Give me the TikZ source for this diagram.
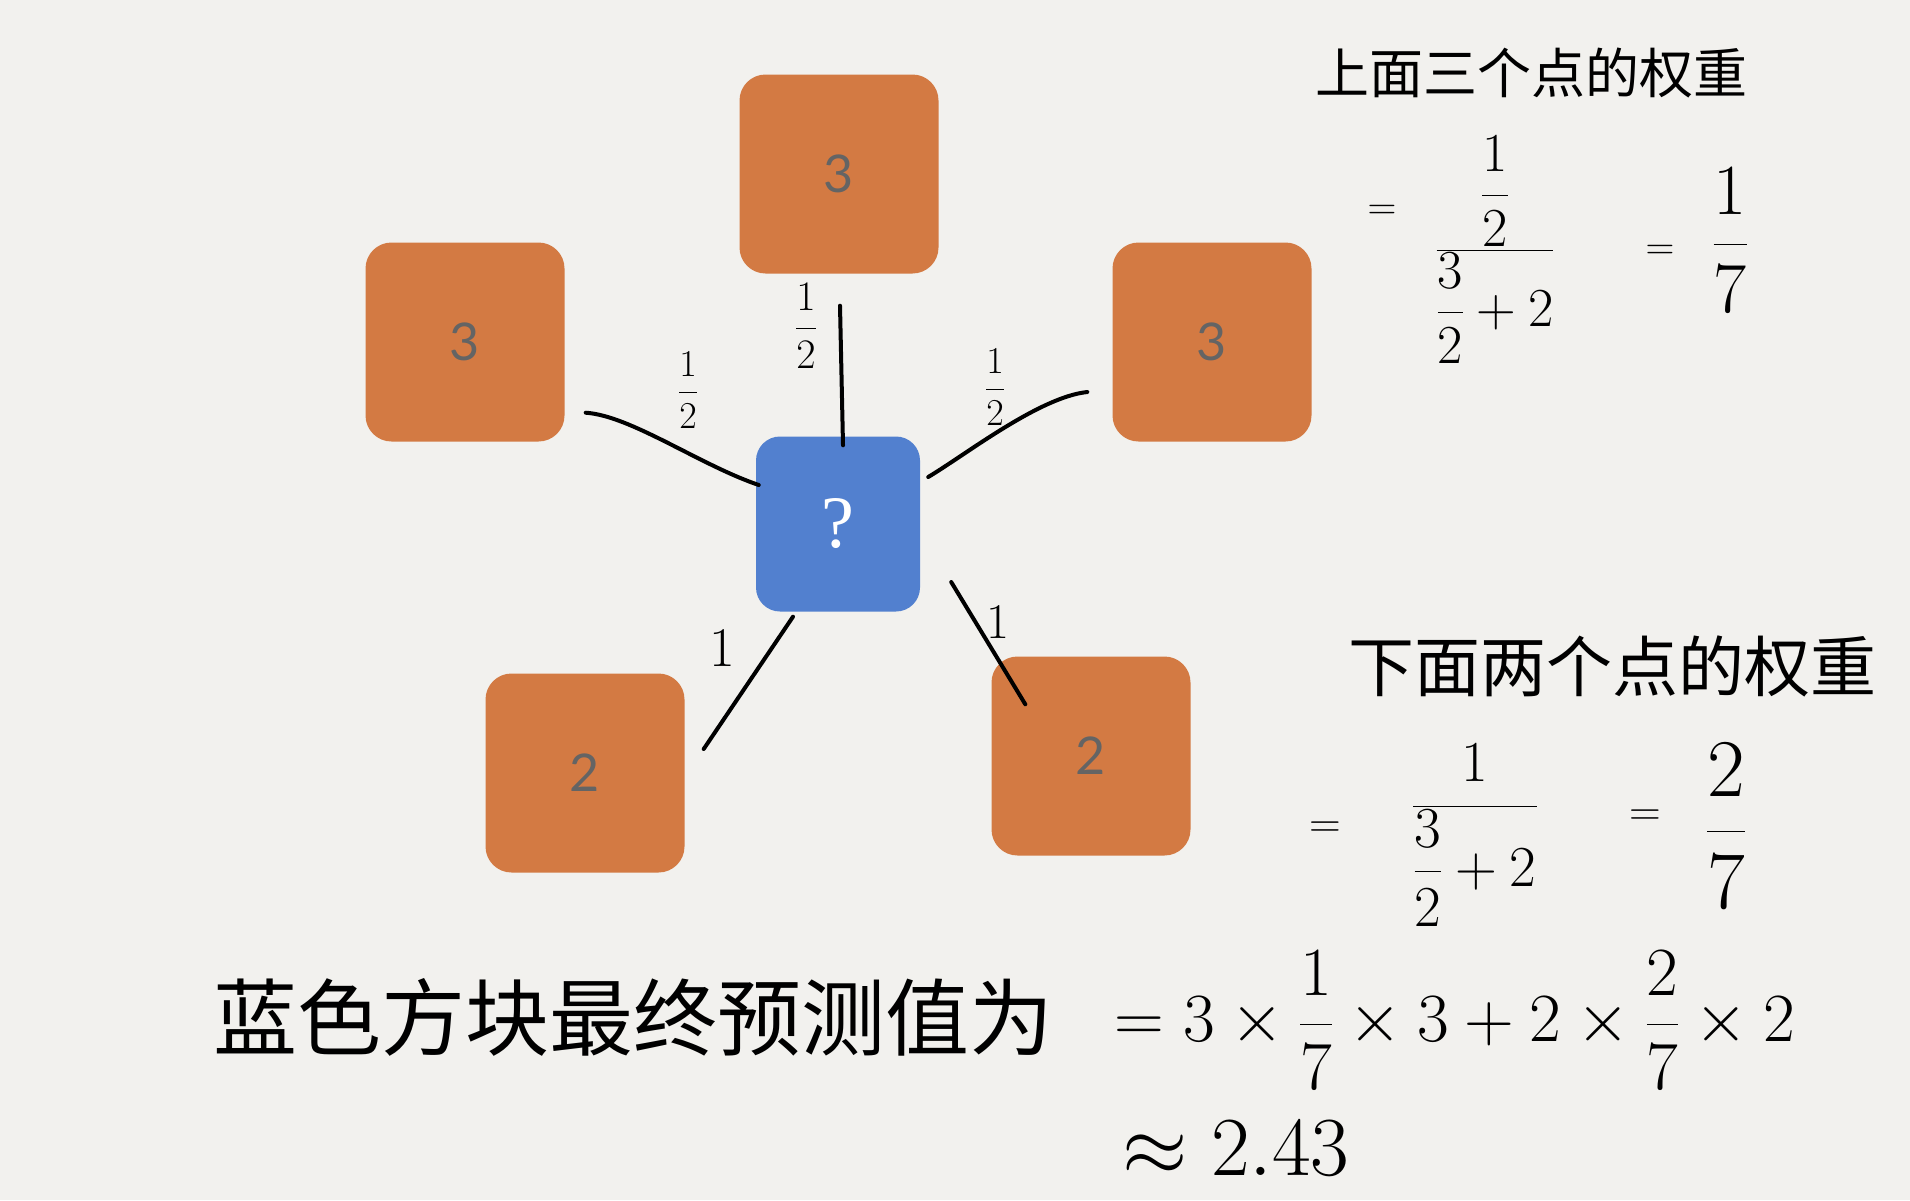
\documentclass[tikz,border=0pt]{standalone}
\usepackage{fix-cm}
\usepackage{amsmath}
\usepackage{fontspec}
\setmainfont{Lato}
\newfontfamily\cjk{Noto Sans CJK SC}
\newfontfamily\qfont{Liberation Serif}
\usetikzlibrary{calc}
\definecolor{bg}{RGB}{242,241,238}
\definecolor{orangebox}{RGB}{211,122,67}
\definecolor{bluebox}{RGB}{82,128,207}
\definecolor{digitgrey}{RGB}{100,100,100}
\tikzset{
  obox/.style={fill=orangebox, rounded corners=26pt, minimum width=199pt, minimum height=199pt,
    inner sep=0pt, text=digitgrey, font=\fontsize{52}{52}\selectfont},
  qbox/.style={fill=bluebox, rounded corners=24pt, minimum width=164pt, minimum height=175pt,
    inner sep=0pt, text=white, font=\qfont\fontsize{74}{74}\selectfont},
  link/.style={line width=4pt, line cap=round, black},
  wlabel/.style={inner sep=0pt, font=\fontsize{38}{38}\selectfont},
  note/.style={inner sep=0pt, font=\cjk\fontsize{54}{54}\selectfont},
  eq/.style={inner sep=0pt, font=\fontsize{55}{55}\selectfont},
}
\begin{document}
\begin{tikzpicture}[x=1pt,y=-1pt]
\fill[bg] (0,0) rectangle (1910,1200);
\useasboundingbox (0,0) rectangle (1910,1200);

% boxes
\node[obox] (T) at (839,174) {3};
\node[obox] (L) at (465,342) {3};
\node[obox] (R) at (1212,342) {3};
\node[qbox] (Q) at (838,524) {?};
\node[obox] (BL) at (585,773) {2};
\node[obox] (BR) at (1091,756) {2};

% connectors
\draw[link] ($(L.south east)+(21,-29)$) .. controls ($(L.south east)+(66,-26)$) and ($(Q.west)+(-56,-59)$) .. ($(Q.west)+(3,-39)$);
\draw[link] ($(T.south)+(1,32)$) -- ($(Q.north)+(5,9)$);
\draw[link] ($(Q.east)+(8,-47)$) .. controls ($(Q.east)+(45,-69)$) and ($(R.west)+(-73,55)$) .. ($(R.west)+(-25,50)$);
\draw[link] ($(Q.south)+(-45,5)$) -- ($(BL.east)+(19,-24)$);
\draw[link] ($(Q.east)+(31,58)$) -- ($(BR.north west)+(34,48)$);

% weights
\node[wlabel] (wl) at (688,390) {$\dfrac{1}{2}$};
\node[wlabel, font=\fontsize{42}{42}\selectfont] (wt) at (806,326) {$\dfrac{1}{2}$};
\node[wlabel] (wr) at (995,387) {$\dfrac{1}{2}$};
\node[wlabel, font=\fontsize{56}{56}\selectfont] (wbl) at (722,648) {$1$};
\node[wlabel, font=\fontsize{50}{50}\selectfont] (wbr) at (998,622) {$1$};

% upper weights note
\node[note] (n1) at (1531,73) {上面三个点的权重};
\node[eq, font=\fontsize{40}{40}\selectfont] (e1) at (1382,212) {$=$};
\node[eq] (f1) at (1495,250) {$\dfrac{\dfrac{1}{2}}{\dfrac{3}{2}+2}$};
\node[eq, font=\fontsize{40}{40}\selectfont] (e2) at (1660,252) {$=$};
\node[eq, font=\fontsize{72}{72}\selectfont] (f2) at (1730,240) {$\dfrac{1}{7}$};

% lower weights note
\node[note, font=\cjk\fontsize{66}{66}\selectfont] (n2) at (1612,666) {下面两个点的权重};
\node[eq, font=\fontsize{44}{44}\selectfont] (e3) at (1325,830) {$=$};
\node[eq, font=\fontsize{58}{58}\selectfont] (f3) at (1475,835) {$\dfrac{1}{\dfrac{3}{2}+2}$};
\node[eq, font=\fontsize{44}{44}\selectfont] (e4) at (1645,818) {$=$};
\node[eq, font=\fontsize{82}{82}\selectfont] (f4) at (1726,826) {$\dfrac{2}{7}$};

% final result
\node[note, font=\cjk\fontsize{84}{84}\selectfont] (n3) at (633,1017) {蓝色方块最终预测值为};
\node[eq, font=\fontsize{69}{69}\selectfont] (e5) at (1455,1020) {$= 3\times\dfrac{1}{7}\times 3 + 2\times\dfrac{2}{7}\times 2$};
\node[eq, font=\fontsize{84}{84}\selectfont] (e6) at (1236,1148) {$\approx 2.43$};
\end{tikzpicture}
\end{document}
